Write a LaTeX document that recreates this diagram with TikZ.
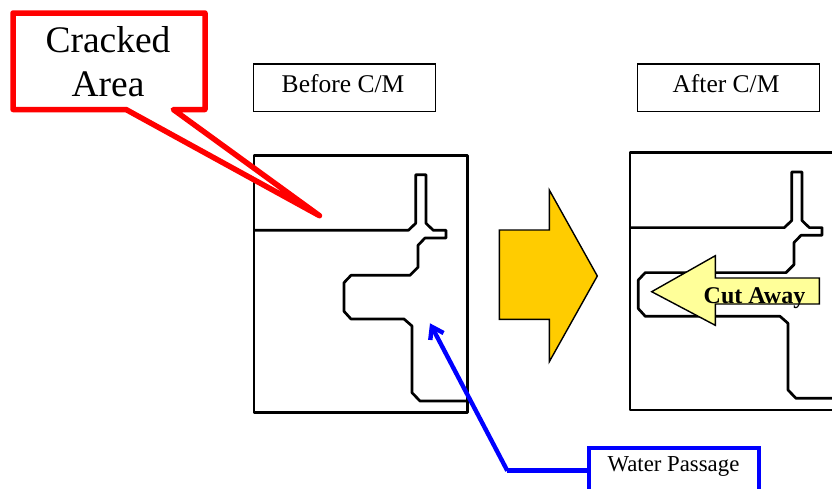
\documentclass[tikz,border=0pt]{standalone}
\usepackage{fontspec}
\setmainfont{Liberation Serif}
\usetikzlibrary{arrows.meta}
\definecolor{bigarrow}{RGB}{255,204,0}
\definecolor{cutarrow}{RGB}{255,255,153}
\tikzset{
	label box/.style={draw=black,line width=1.6pt,fill=white,minimum width=182pt,minimum height=47.3pt,inner sep=0pt},
	label text/.style={inner sep=0pt,font=\fontsize{25.5}{30}\selectfont,anchor=base},
	casting/.style={draw=black,line width=2.7pt,line join=round},
	red note/.style={draw=red,line width=5.5pt,line join=round,fill=white},
	blue note/.style={draw=blue,line width=4.2pt,fill=white,anchor=north west,minimum width=170pt,minimum height=60pt,inner sep=0pt,outer sep=0pt},
}
% #1 is how far the pocket reaches to the left
\newcommand{\castingpart}[1]{%
	\draw[casting] (0,0) rectangle (213.7,257.4);
	\draw[casting] (0,75) -- (154.3,75) -- (161.7,68) -- (161.7,19.4) -- (172,19.4) -- (172,68)
		-- (179.3,75) -- (192,75) -- (192,82.7) -- (171,82.7) -- (164,90) -- (164,112) -- (156,120)
		-- (#1+7,120) -- (#1,127.4) -- (#1,156) -- (#1+7,163.7) -- (150,163.7) -- (158,170.7)
		-- (158,237.4) -- (166,245.7) -- (213.7,245.7);
}
\begin{document}
\begin{tikzpicture}[x=1pt,y=-1pt]
	\useasboundingbox (0,0) rectangle (832,488);

	% Before and after sections
	\begin{scope}[shift={(254,155.3)}]
		\castingpart{90}
	\end{scope}
	\begin{scope}[shift={(630,152.6)}]
		\castingpart{8.3}
	\end{scope}

	% Titles
	\node[label box] (before) at (344.3,87.7) {};
	\node[label box] (after) at (728.3,87.7) {};
	\node[label text] (beforetext) at (343,92) {Before C/M};
	\node[label text] (aftertext) at (726,92) {After C/M};

	% Big arrow
	\draw[fill=bigarrow,line width=1.4pt]
		(499.3,230) -- (549.3,230) -- (549.3,190) -- (597.3,276) -- (549.3,361.7) -- (549.3,319.3) -- (499.3,319.3) -- cycle;

	% Cut away arrow
	\draw[fill=cutarrow,line width=1.4pt]
		(651.7,291.7) -- (715.3,255.7) -- (715.3,278) -- (819.3,278) -- (819.3,304)
		-- (715.3,304) -- (715.3,325.3) -- cycle;
	\node[font=\fontsize{24}{28}\bfseries\selectfont,inner sep=0pt,anchor=base] (cut) at (754.5,303) {Cut Away};

	% Cracked area callout
	\draw[red note] (13,13) -- (205,13) -- (205,109.5) -- (173.3,109.5) -- (319.5,215.7)
		-- (126,109.5) -- (13,109.5) -- cycle;
	\node[align=center,inner sep=0pt,font=\fontsize{37.5}{44}\selectfont] (cracked) at (108,62) {Cracked\\Area};

	% Water passage
	\coordinate (tip) at (430,323.3);
	\coordinate (bend) at (507.3,470.7);
	\node[blue note] (water) at (589.3,448.3) {};
	\node[font=\fontsize{22.8}{26}\selectfont,inner sep=0pt,anchor=base] (waterlabel) at (673.5,471.5) {Water Passage};
	\draw[blue,line width=5.5pt] (water.west |- bend) -- (bend);
	\draw[blue,line width=4.4pt,-{Straight Barb[length=11pt,width=15pt]}] (bend) -- (tip);
\end{tikzpicture}
\end{document}
